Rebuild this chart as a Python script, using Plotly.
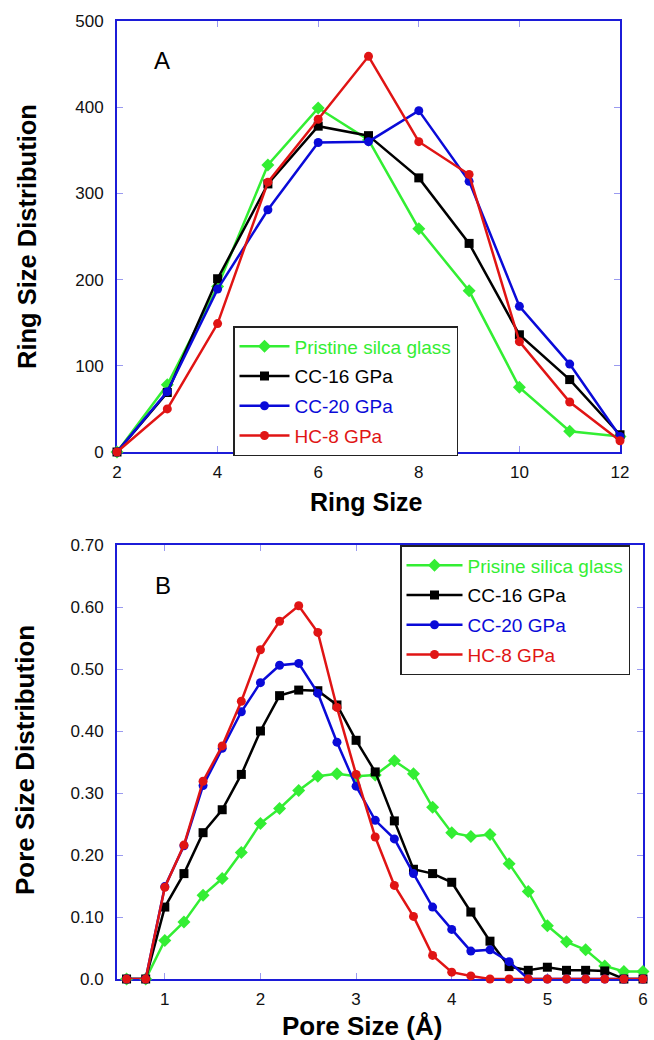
import plotly.graph_objects as go

# ---------------- Data ----------------
ring_size = [2, 3, 4, 5, 6, 7, 8, 9, 10, 11, 12]
ring_pristine = [0, 78, 192, 333, 399, 362, 259, 187, 75, 24, 18]
ring_cc16 = [0, 69, 201, 311, 378, 367, 318, 242, 136, 84, 20]
ring_cc20 = [0, 70, 189, 281, 359, 360, 396, 314, 169, 102, 18]
ring_hc8 = [0, 50, 149, 313, 386, 459, 360, 322, 128, 58, 13]

pore_size = [0.6, 0.8, 1.0, 1.2, 1.4, 1.6, 1.8, 2.0, 2.2, 2.4, 2.6, 2.8, 3.0, 3.2,
             3.4, 3.6, 3.8, 4.0, 4.2, 4.4, 4.6, 4.8, 5.0, 5.2, 5.4, 5.6, 5.8, 6.0]
pore_pristine = [0, 0, 0.062, 0.092, 0.135, 0.162, 0.204, 0.251, 0.275, 0.304, 0.327, 0.331,
                 0.327, 0.329, 0.352, 0.331, 0.277, 0.236, 0.230, 0.233, 0.186, 0.141,
                 0.086, 0.060, 0.047, 0.021, 0.012, 0.012]
pore_cc16 = [0, 0, 0.116, 0.170, 0.236, 0.273, 0.330, 0.400, 0.457, 0.466, 0.465, 0.442,
             0.385, 0.334, 0.255, 0.177, 0.170, 0.156, 0.108, 0.061, 0.020, 0.014,
             0.019, 0.014, 0.014, 0.013, 0.0, 0.0]
pore_cc20 = [0, 0, 0.149, 0.215, 0.312, 0.372, 0.431, 0.478, 0.506, 0.509, 0.461, 0.382,
             0.311, 0.256, 0.226, 0.170, 0.116, 0.080, 0.045, 0.047, 0.028, 0.0,
             0.0, 0.0, 0.0, 0.0, 0.0, 0.0]
pore_hc8 = [0, 0, 0.148, 0.216, 0.319, 0.376, 0.448, 0.531, 0.577, 0.602, 0.559, 0.438,
            0.330, 0.229, 0.151, 0.101, 0.038, 0.011, 0.005, 0.0, 0.0, 0.0,
            0.0, 0.0, 0.0, 0.0, 0.0, 0.0]

names_a = ["Pristine silca glass", "CC-16 GPa", "CC-20 GPa", "HC-8 GPa"]
names_b = ["Prisine silica glass", "CC-16 GPa", "CC-20 GPa", "HC-8 GPa"]

ring_xticks = [2, 4, 6, 8, 10, 12]
ring_yticks = [0, 100, 200, 300, 400, 500]
pore_xticks = [1, 2, 3, 4, 5, 6]
pore_yticks = [0, 0.1, 0.2, 0.3, 0.4, 0.5, 0.6, 0.7]
pore_yticktext = ["0.0", "0.10", "0.20", "0.30", "0.40", "0.50", "0.60", "0.70"]

# ---------------- Styles ----------------
colors = ["#33ee33", "#000000", "#0a0ad8", "#e01414"]
symbols = ["diamond", "square", "circle", "circle"]
msizes = [10, 9, 9, 9]
FONT = "Liberation Sans, Arial, sans-serif"
FRAME = "#1c1cd8"
TICKC = "#9a9af0"

W, H = 654, 1040

fig = go.Figure()

ring_series = [ring_pristine, ring_cc16, ring_cc20, ring_hc8]
pore_series = [pore_pristine, pore_cc16, pore_cc20, pore_hc8]

for i in range(4):
    fig.add_trace(go.Scatter(
        x=ring_size, y=ring_series[i], mode="lines+markers",
        name=f"<span style='color:{colors[i]}'>{names_a[i]}</span>",
        line=dict(color=colors[i], width=2.5),
        marker=dict(color=colors[i], symbol=symbols[i], size=msizes[i]),
        cliponaxis=False, xaxis="x", yaxis="y", legend="legend",
        legendgroup=f"a{i}",
    ))
for i in range(4):
    fig.add_trace(go.Scatter(
        x=pore_size, y=pore_series[i], mode="lines+markers",
        name=f"<span style='color:{colors[i]}'>{names_b[i]}</span>",
        line=dict(color=colors[i], width=2.5),
        marker=dict(color=colors[i], symbol=symbols[i], size=msizes[i]),
        cliponaxis=False, xaxis="x2", yaxis="y2", legend="legend2",
        legendgroup=f"b{i}",
    ))

axis_common = dict(
    showline=True, linecolor=FRAME, linewidth=2, mirror="allticks",
    ticks="inside", ticklen=6, tickwidth=1, tickcolor=TICKC,
    showgrid=False, zeroline=False, layer="below traces", automargin=False,
    tickfont=dict(family=FONT, size=17, color="#111111"),
)

def px_x(p):
    return p / W

def px_y(p):
    return 1 - p / H

fig.update_layout(
    template="none",
    width=W, height=H,
    margin=dict(l=0, r=0, t=0, b=0, pad=0),
    paper_bgcolor="white", plot_bgcolor="white",
    font=dict(family=FONT, color="black"),
    xaxis=dict(domain=[px_x(117), px_x(620)], range=[2, 12], tickvals=ring_xticks,
               anchor="y", ticklabelstandoff=4, **axis_common),
    yaxis=dict(domain=[px_y(452), px_y(21)], range=[0, 500], tickvals=ring_yticks,
               anchor="x", ticklabelstandoff=8, **axis_common),
    xaxis2=dict(domain=[px_x(117), px_x(643)], range=[0.5, 6], tickvals=pore_xticks,
                anchor="y2", ticklabelstandoff=4, **axis_common),
    yaxis2=dict(domain=[px_y(979), px_y(545)], range=[0, 0.7], tickvals=pore_yticks,
                ticktext=pore_yticktext, anchor="x2", ticklabelstandoff=8, **axis_common),
    legend=dict(x=px_x(233), y=px_y(326), xanchor="left", yanchor="top",
                bgcolor="white", bordercolor="#222222", borderwidth=1.5,
                font=dict(family=FONT, size=19), itemwidth=50,
                tracegroupgap=2, itemsizing="trace", traceorder="grouped"),
    legend2=dict(x=px_x(400), y=px_y(545), xanchor="left", yanchor="top",
                 bgcolor="white", bordercolor="#222222", borderwidth=1.5,
                 font=dict(family=FONT, size=19), itemwidth=56,
                 tracegroupgap=2, itemsizing="trace", traceorder="grouped"),
    showlegend=True,
)

annotations = [
    dict(text="A", x=px_x(162), y=px_y(60), xanchor="center", yanchor="middle",
         font=dict(family=FONT, size=24, color="black")),
    dict(text="B", x=px_x(163), y=px_y(585), xanchor="center", yanchor="middle",
         font=dict(family=FONT, size=24, color="black")),
    dict(text="<b>Ring Size</b>", x=px_x(366), y=px_y(502), xanchor="center",
         yanchor="middle", font=dict(family=FONT, size=25, color="black")),
    dict(text="<b>Ring Size Distribution</b>", x=px_x(27), y=px_y(237), xanchor="center",
         yanchor="middle", textangle=-90, font=dict(family=FONT, size=25.5, color="black")),
    dict(text="<b>Pore Size (Å)</b>", x=px_x(362), y=px_y(1026), xanchor="center",
         yanchor="middle", font=dict(family=FONT, size=26, color="black")),
    dict(text="<b>Pore Size Distribution</b>", x=px_x(25), y=px_y(760), xanchor="center",
         yanchor="middle", textangle=-90, font=dict(family=FONT, size=26, color="black")),
]
for a in annotations:
    a.update(xref="paper", yref="paper", showarrow=False)
fig.update_layout(annotations=annotations)

fig.write_html(
    "out.html",
    config={"displayModeBar": False},
    post_script="document.body.style.margin='0';document.body.style.padding='0';"
                "document.body.style.overflow='hidden';",
)
